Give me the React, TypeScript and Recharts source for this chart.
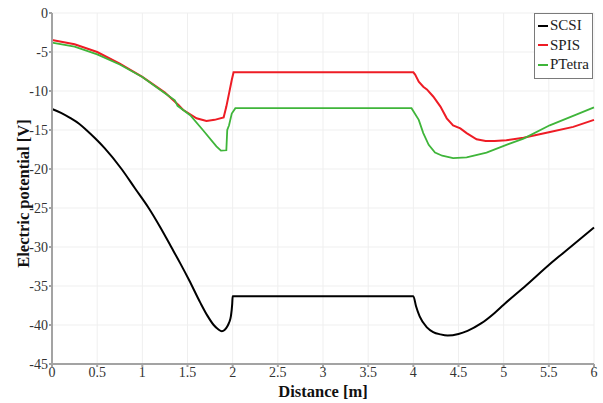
import React from 'react';
import { LineChart, Line, XAxis, YAxis, CartesianGrid, Legend } from 'recharts';

// ticks
const distanceTicks = [0, 0.5, 1, 1.5, 2, 2.5, 3, 3.5, 4, 4.5, 5, 5.5, 6];
const potentialTicks = [0, -5, -10, -15, -20, -25, -30, -35, -40, -45];

// SCSI (black)
const scsiDistance = [0, 0.1, 0.2, 0.3, 0.38, 0.48, 0.58, 0.77, 0.92, 1.07, 1.2, 1.32, 1.42, 1.52, 1.64, 1.72, 1.79, 1.84, 1.88, 1.91, 1.94, 1.96, 1.98, 1.995, 2.0, 3.0, 4.0, 4.03, 4.07, 4.15, 4.22, 4.3, 4.38, 4.5, 4.6, 4.75, 4.9, 5.0, 5.25, 5.5, 5.75, 6.0];
const scsiPotential = [-12.3, -12.8, -13.45, -14.2, -15, -16.1, -17.3, -20, -22.5, -25, -27.5, -30, -32.1, -34.3, -37.1, -38.8, -40.0, -40.55, -40.8, -40.65, -40.2, -39.7, -38.9, -37.3, -36.3, -36.3, -36.3, -37.6, -38.9, -40.3, -40.9, -41.2, -41.35, -41.15, -40.75, -39.8, -38.45, -37.4, -34.9, -32.3, -29.9, -27.5];

// SPIS (red)
const spisDistance = [0, 0.25, 0.5, 0.75, 1, 1.25, 1.4, 1.45, 1.6, 1.71, 1.8, 1.9, 1.93, 1.96, 1.99, 2.01, 3, 4.0, 4.02, 4.06, 4.11, 4.15, 4.22, 4.3, 4.37, 4.44, 4.52, 4.59, 4.7, 4.8, 4.9, 5.03, 5.22, 5.5, 5.77, 6.0];
const spisPotential = [-3.45, -4.0, -5.0, -6.5, -8.2, -10.2, -11.8, -12.4, -13.5, -13.85, -13.7, -13.4, -12.0, -10.3, -8.6, -7.6, -7.6, -7.6, -7.9, -8.8, -9.45, -9.8, -10.7, -12.0, -13.5, -14.4, -14.8, -15.4, -16.2, -16.4, -16.4, -16.3, -16.0, -15.3, -14.6, -13.7];

// PTetra (green)
const ptetraDistance = [0, 0.25, 0.5, 0.75, 1, 1.25, 1.36, 1.39, 1.53, 1.67, 1.82, 1.87, 1.93, 1.94, 1.96, 1.99, 2.03, 3, 3.98, 4.06, 4.11, 4.17, 4.24, 4.32, 4.44, 4.59, 4.81, 5.03, 5.22, 5.51, 5.81, 6.0];
const ptetraPotential = [-3.8, -4.3, -5.3, -6.6, -8.2, -10.3, -11.2, -11.9, -13.1, -15.0, -17.1, -17.65, -17.6, -15.0, -14.4, -12.9, -12.2, -12.2, -12.2, -13.7, -15.4, -16.9, -17.9, -18.3, -18.6, -18.5, -17.9, -16.9, -16.1, -14.4, -13.0, -12.1];

const seriesNames = ['SCSI', 'SPIS', 'PTetra'];
const seriesColors = ['#000000', '#ee1c25', '#3fb53a'];

const toPoints = (xs: number[], vs: number[]) => xs.map((x, i) => ({ x, v: vs[i] }));

const scsiData = toPoints(scsiDistance, scsiPotential);
const spisData = toPoints(spisDistance, spisPotential);
const ptetraData = toPoints(ptetraDistance, ptetraPotential);

const font = '"Liberation Serif", serif';

const LegendBox = () => (
  <div style={{ border: '1px solid #7a7a7a', background: '#fff', padding: '2px 3px 3px 3px', fontFamily: font, fontSize: 15, color: '#222', lineHeight: '19.5px' }}>
    {seriesNames.map((name, i) => (
      <div key={name} style={{ display: 'flex', alignItems: 'center' }}>
        <span style={{ display: 'inline-block', width: 10, height: 2, background: seriesColors[i], marginRight: 2 }}></span>
        <span>{name}</span>
      </div>
    ))}
  </div>
);

// rotated y label, centred on the axis' own box
const YLabel = ({ viewBox }: any) => {
  const cx = 23;
  const cy = viewBox.y + viewBox.height / 2 + 5;
  return (
    <text x={cx} y={cy} transform={`rotate(-90, ${cx}, ${cy})`} textAnchor="middle" dominantBaseline="central" fill="#111" fontSize={16.5} fontWeight="bold" fontFamily={font}>
      Electric potential [V]
    </text>
  );
};

export default function App() {
  return (
    <div style={{ position: 'absolute', left: 0, top: 0, width: 603, height: 403, background: '#fff' }}>
      <LineChart width={603} height={403} margin={{ top: 13, right: 9, bottom: 0, left: 0 }}>
        <CartesianGrid stroke="#efefef" strokeWidth={1} />
        <XAxis
          type="number"
          dataKey="x"
          domain={[0, 6]}
          ticks={distanceTicks}
          interval={0}
          height={39}
          stroke="#a3a3a3"
          strokeWidth={2}
          tickSize={3}
          tickMargin={0}
          tick={{ fill: '#333', fontSize: 14, fontFamily: font }}
          label={{ value: 'Distance [m]', position: 'insideBottom', offset: 6, fill: '#111', fontSize: 16.5, fontWeight: 'bold', fontFamily: font }}
        />
        <YAxis
          type="number"
          domain={[-45, 0]}
          ticks={potentialTicks}
          interval={0}
          width={52}
          stroke="#a3a3a3"
          strokeWidth={2}
          tickSize={3}
          tickMargin={1}
          tick={{ fill: '#333', fontSize: 14, fontFamily: font }}
          label={<YLabel />}
        />
        <Legend
          layout="horizontal"
          verticalAlign="middle"
          align="center"
          wrapperStyle={{ left: 534, top: 13, width: 'auto' }}
          content={() => <LegendBox />}
        />
        <Line data={scsiData} dataKey="v" name="SCSI" type="monotone" stroke={seriesColors[0]} strokeWidth={2} dot={false} isAnimationActive={false} />
        <Line data={spisData} dataKey="v" name="SPIS" type="linear" stroke={seriesColors[1]} strokeWidth={2} dot={false} isAnimationActive={false} />
        <Line data={ptetraData} dataKey="v" name="PTetra" type="linear" stroke={seriesColors[2]} strokeWidth={1.8} dot={false} isAnimationActive={false} />
      </LineChart>
    </div>
  );
}
